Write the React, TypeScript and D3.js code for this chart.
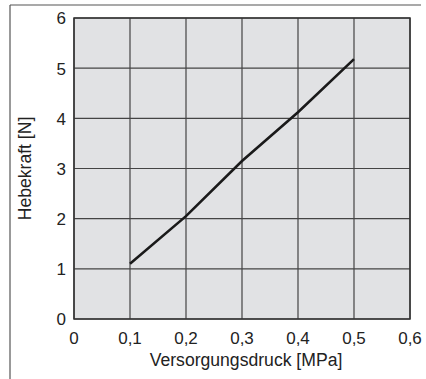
import React from "react";
import * as d3 from "d3";

const pressure = [0.1, 0.2, 0.3, 0.4, 0.5];
const force = [1.1, 2.05, 3.15, 4.12, 5.18];
const xTicks = [0, 0.1, 0.2, 0.3, 0.4, 0.5, 0.6];
const yTicks = [0, 1, 2, 3, 4, 5, 6];
const xTitle = "Versorgungsdruck [MPa]";
const yTitle = "Hebekraft [N]";

export default function App() {
  const W = 426, H = 379;
  const left = 74, right = 410, top = 18, bottom = 319;
  const x = d3.scaleLinear().domain([0, 0.6]).range([left, right]);
  const y = d3.scaleLinear().domain([0, 6]).range([bottom, top]);
  const line = d3.line<number>().x((_, i) => x(pressure[i])).y((d) => y(d));
  const font = "'Liberation Sans', Arial, sans-serif";
  const fmt = (v: number) => (v === 0 ? "0" : v.toFixed(1).replace(".", ","));
  return (
    <svg width={W} height={H} style={{ position: "absolute", left: 0, top: 0, background: "#fff" }}>
      <line x1={10} y1={5} x2={421} y2={5} stroke="#555" strokeWidth={1.2} />
      <line x1={10} y1={5} x2={10} y2={379} stroke="#555" strokeWidth={1.2} />
      <rect x={left} y={top} width={right - left} height={bottom - top} fill="#e1e2e4" />
      {xTicks.map((t) => (
        <line key={"gx" + t} x1={x(t)} x2={x(t)} y1={top} y2={bottom} stroke="#444" strokeWidth={1.2} />
      ))}
      {yTicks.map((t) => (
        <line key={"gy" + t} x1={left} x2={right} y1={y(t)} y2={y(t)} stroke="#444" strokeWidth={1.2} />
      ))}
      <rect x={left} y={top} width={right - left} height={bottom - top} fill="none" stroke="#333" strokeWidth={1.5} />
      <path d={line(force) || ""} fill="none" stroke="#1a1a1a" strokeWidth={2.6} />
      {yTicks.map((t) => (
        <text key={"ty" + t} x={66} y={y(t) + 2} textAnchor="end" dominantBaseline="middle" fontFamily={font} fontSize={17} fill="#222">
          {t}
        </text>
      ))}
      {xTicks.map((t) => (
        <text key={"tx" + t} x={x(t)} y={344} textAnchor="middle" fontFamily={font} fontSize={17} fill="#222">
          {fmt(t)}
        </text>
      ))}
      <text x={(left + right) / 2 + 4} y={366} textAnchor="middle" fontFamily={font} fontSize={17.6} fill="#222">
        {xTitle}
      </text>
      <text transform={`translate(31, ${(top + bottom) / 2}) rotate(-90)`} textAnchor="middle" fontFamily={font} fontSize={17.6} fill="#222">
        {yTitle}
      </text>
    </svg>
  );
}
